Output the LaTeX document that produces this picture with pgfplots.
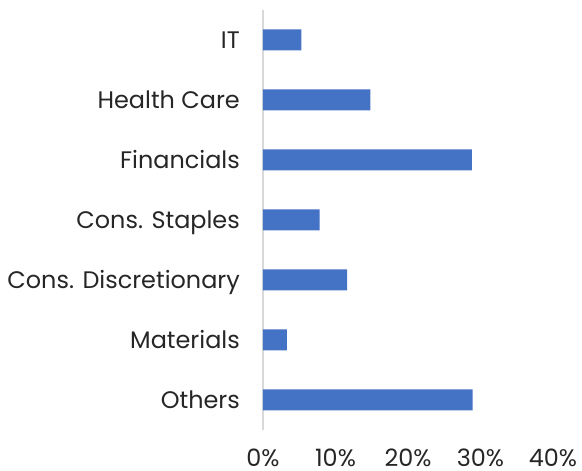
\documentclass[border=0pt]{standalone}
\usepackage{fontspec}
\setmainfont{Poppins}
\usepackage{pgfplots}
\pgfplotsset{compat=1.18}
\definecolor{barblue}{HTML}{4472C4}
\definecolor{axgrey}{HTML}{D9D9D9}
\definecolor{txt}{HTML}{262626}
\begin{document}
\begin{tikzpicture}
\begin{axis}[
  at={(0,0)}, anchor=south west,
  scale only axis, width=290bp, height=420bp,
  xbar, bar width=21bp,
  xmin=0, xmax=40,
  ymin=-0.5, ymax=6.5,
  ytick={0,...,6},
  yticklabels={Others, Materials, Cons. Discretionary, Cons. Staples, Financials, Health Care, IT},
  xtick={0,10,20,30,40},
  xticklabel={\pgfmathprintnumber{\tick}\%},
  /pgf/number format/assume math mode=true,
  axis lines*=left,
  x axis line style={draw=none},
  y axis line style={draw=axgrey, line width=1.3bp},
  major tick length=0pt,
  tick style={draw=none},
  yticklabel style={font=\fontsize{24}{24}\selectfont, text=txt, inner sep=0pt, anchor=base east, xshift=-23bp, yshift=-8.3bp},
  xticklabel style={font=\fontsize{24}{24}\selectfont, text=txt, inner sep=0pt, anchor=base, yshift=-36.5bp},
]
\addplot[fill=barblue, draw=none] coordinates {(28.9,0) (3.3,1) (11.6,2) (7.8,3) (28.8,4) (14.8,5) (5.3,6)};
\end{axis}
\path (-263bp,-41bp) rectangle (319bp,430bp);
\end{tikzpicture}
\end{document}
